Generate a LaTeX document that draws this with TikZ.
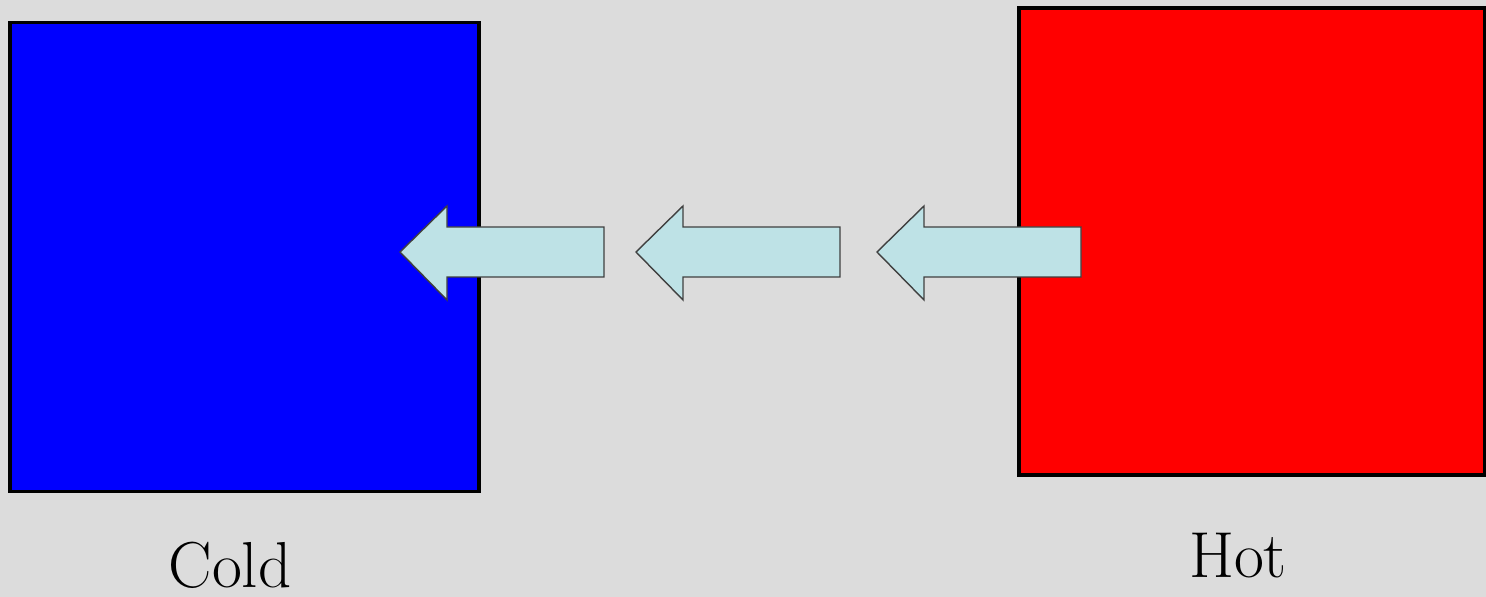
\documentclass[tikz,border=0pt]{standalone}
\usetikzlibrary{positioning}
\definecolor{paper}{RGB}{220,220,220}
\definecolor{flowblue}{RGB}{190,226,230}

\begin{document}
\begin{tikzpicture}[x=0.02cm,y=-0.02cm,
  body/.style={draw=black,line width=2pt,inner sep=0pt,
    minimum width=9.38cm,minimum height=9.38cm},
  flow/.style={draw=black!75,fill=flowblue,line width=0.8pt,line join=miter},
  tag/.style={font=\fontsize{37}{40}\selectfont,anchor=base}]

  \fill[paper] (0,0) rectangle (1486,597);
  \useasboundingbox (0,0) rectangle (1486,597);

  % the two bodies
  \node[body,fill=blue] (cold) at (244.5,257) {};
  \node[body,fill=red,minimum width=9.32cm,minimum height=9.34cm] (hot) at (1252,241.5) {};

  \node[tag] (coldtag) at (230,587) {Cold};
  \node[tag] (hottag) at (1238,577) {Hot};

  % heat flow, hot to cold
  \foreach \tip in {400,636,877}
    \draw[flow] (\tip,252) -- (\tip+47,206) -- (\tip+47,227) -- (\tip+204,227)
      -- (\tip+204,277) -- (\tip+47,277) -- (\tip+47,300) -- cycle;
\end{tikzpicture}
\end{document}
